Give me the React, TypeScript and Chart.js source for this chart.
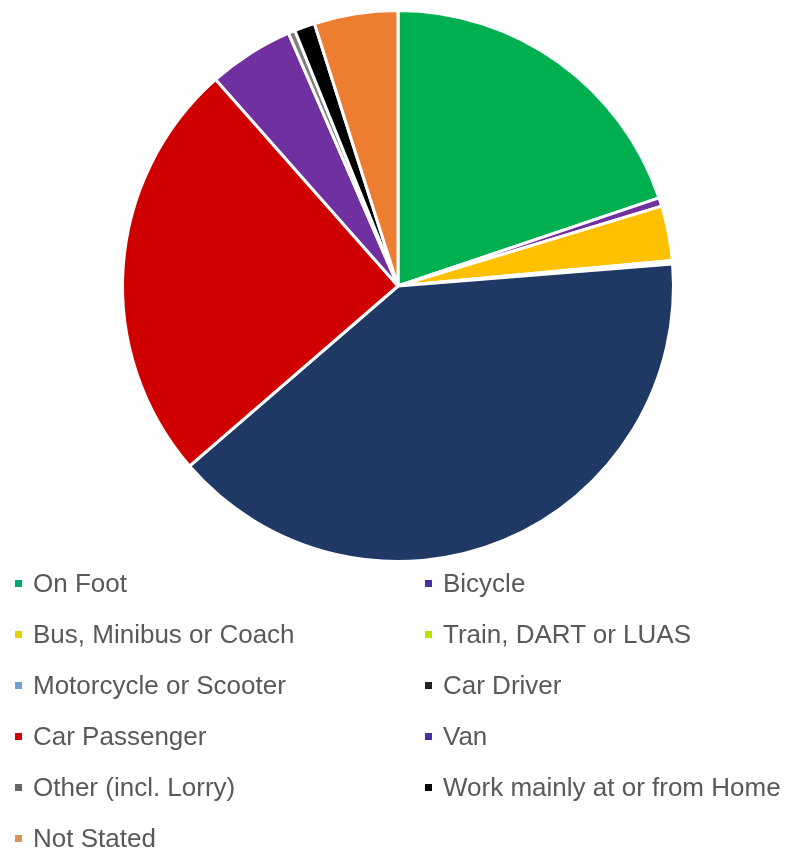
import React, { useEffect, useRef } from "react";
import { Chart, registerables } from "chart.js";

Chart.register(...registerables);

const categories: string[] = [
  "On Foot",
  "Bicycle",
  "Bus, Minibus or Coach",
  "Train, DART or LUAS",
  "Motorcycle or Scooter",
  "Car Driver",
  "Car Passenger",
  "Van",
  "Other (incl. Lorry)",
  "Work mainly at or from Home",
  "Not Stated",
];

const shares: number[] = [19.8, 0.5, 3.2, 0.1, 0.1, 39.9, 24.8, 5.0, 0.4, 1.2, 4.9];

const sliceColors: string[] = [
  "#00B050",
  "#7030A0",
  "#FFC000",
  "#C4D600",
  "#6F9FCC",
  "#1F3864",
  "#D00000",
  "#7030A0",
  "#7F7F7F",
  "#000000",
  "#ED7D31",
];

const legendColors: string[] = [
  "#00A86B",
  "#4B2FA0",
  "#E6D000",
  "#B8E000",
  "#6F9FCC",
  "#222222",
  "#D00000",
  "#4B2FA0",
  "#666666",
  "#000000",
  "#D9905A",
];

export default function App() {
  const canvasRef = useRef<HTMLCanvasElement | null>(null);

  useEffect(() => {
    const canvas = canvasRef.current;
    if (!canvas) return;
    const chart = new Chart(canvas, {
      type: "pie",
      data: {
        labels: categories,
        datasets: [
          {
            data: shares,
            backgroundColor: sliceColors,
            borderColor: "#ffffff",
            borderWidth: 3,
          },
        ],
      },
      options: {
        responsive: false,
        animation: false,
        layout: { padding: { left: 121, top: 9, right: 131, bottom: 12 } },
        plugins: {
          legend: { display: false },
          tooltip: { enabled: false },
        },
      },
    });
    return () => chart.destroy();
  }, []);

  return (
    <div style={{ position: "absolute", left: 0, top: 0, width: 806, height: 853, background: "#ffffff" }}>
      <canvas ref={canvasRef} width={806} height={575} style={{ position: "absolute", left: 0, top: 0, width: 806, height: 575 }} />
      <div
        style={{
          position: "absolute",
          left: 0,
          top: 558,
          width: 806,
          display: "grid",
          gridTemplateColumns: "410px 396px",
          fontFamily: "'Liberation Sans', Arial, sans-serif",
          fontSize: 26,
          color: "#595959",
        }}
      >
        {categories.map((c, i) => (
          <div
            key={c}
            style={{
              height: 51,
              lineHeight: "51px",
              display: "flex",
              alignItems: "center",
              paddingLeft: i % 2 === 0 ? 15 : 15,
              whiteSpace: "nowrap",
            }}
          >
            <span
              style={{
                display: "inline-block",
                width: 7,
                height: 7,
                background: legendColors[i],
                marginRight: 11,
              }}
            />
            <span>{c}</span>
          </div>
        ))}
      </div>
    </div>
  );
}
